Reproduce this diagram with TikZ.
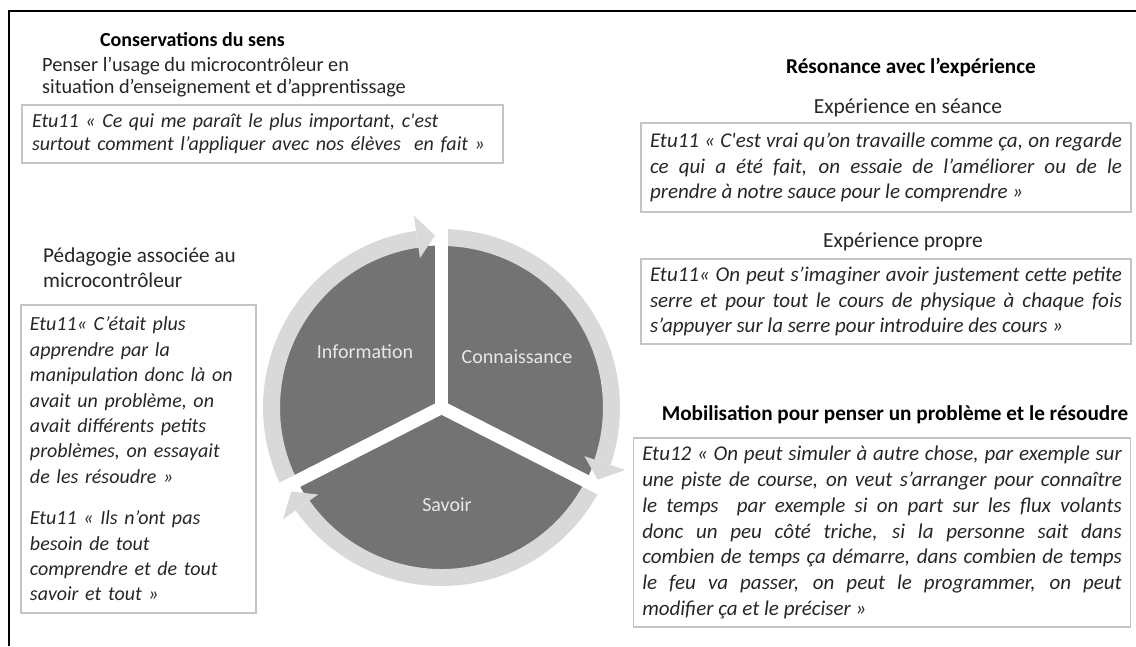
\documentclass[tikz,border=0pt]{standalone}
\usepackage{fontspec}
\setmainfont{Carlito}
\usepackage{tikz}
\usetikzlibrary{positioning}
\definecolor{ink}{HTML}{262626}
\definecolor{rulegry}{HTML}{C4C4C4}
\definecolor{slicegry}{HTML}{737373}
\definecolor{ringgry}{HTML}{D9D9D9}
\definecolor{segwht}{HTML}{E8E8E8}
\tikzset{
  quotebox/.style ={draw=rulegry, line width=1.3pt, text=ink, inner xsep=9pt, inner ysep=0pt,
                    font=\fontsize{21}{25.8}\selectfont\itshape, align=justify},
  raggedbox/.style={quotebox, align=left, font=\fontsize{20}{25.4}\selectfont\itshape},
  ttl/.style      ={font=\fontsize{21.2}{24}\selectfont\bfseries, text=black, inner sep=0pt},
  subhd/.style    ={font=\fontsize{21.5}{25}\selectfont, text=ink, inner sep=0pt, align=left},
  segl/.style     ={font=\fontsize{20}{24}\selectfont, text=segwht, inner sep=0pt},
  band/.style     ={draw=ringgry, line width=17pt},
  barb/.style     ={fill=ringgry},
  gapcut/.style   ={draw=white, line width=13pt},
  framel/.style   ={draw=black, line width=2pt},
}
\begin{document}
\begin{tikzpicture}[x=1pt, y=1pt]
  \useasboundingbox (0,0) rectangle (1136,646);
  \draw[framel] (9,0) -- (9,635) -- (1136,635);
  % left column
  \node[ttl, font=\fontsize{20}{24}\selectfont\bfseries] (sens) at (192.5,606) {Conservations du sens};
  \node[subhd, anchor=west, font=\fontsize{20.3}{22}\selectfont] (usage) at (42,569)
    {Penser l’usage du microcontrôleur en\\situation d’enseignement et d’apprentissage};
  \node[raggedbox, text width=461pt, inner xsep=10pt, minimum height=58pt, font=\fontsize{20}{23}\selectfont\itshape] (q1) at (262.5,512)
    {Etu11 « Ce qui me paraît le plus important, c\textquotesingle est\\surtout comment l’appliquer avec nos élèves \ en fait »};
  \node[subhd, anchor=west, font=\fontsize{21.2}{25}\selectfont] (peda) at (43,378.5) {Pédagogie associée au\\microcontrôleur};
  \node[raggedbox, text width=217pt, minimum height=308pt] (q2) at (138.5,187)
    {Etu11« C’était plus\\apprendre par la\\manipulation donc là on\\avait un problème, on\\avait différents petits\\problèmes, on essayait\\de les résoudre »\\[16pt]
     Etu11 « Ils n’ont pas\\besoin de tout\\comprendre et de tout\\savoir et tout »};
  % right column
  \node[ttl] (reson) at (911,579) {Résonance avec l’expérience};
  \node[quotebox, text width=472pt, minimum height=89pt] (q3) at (886,478.5)
    {Etu11 « C\textquotesingle est vrai qu’on travaille comme ça, on regarde \linebreak ce qui a été fait, on essaie de l’améliorer ou de le \linebreak prendre à notre sauce pour le comprendre »};
  \node[subhd, above=5pt of q3, xshift=22pt] (seance) {Expérience en séance};
  \node[quotebox, text width=472pt, minimum height=85pt] (q4) at (886,344.5)
    {Etu11« On peut s’imaginer avoir justement cette petite \linebreak serre et pour tout le cours de physique à chaque fois \linebreak s’appuyer sur la serre pour introduire des cours »};
  \node[subhd, above=7pt of q4, xshift=17pt] (propre) {Expérience propre};
  \node[ttl] (mobil) at (895,231) {Mobilisation pour penser un problème et le résoudre};
  \node[quotebox, text width=479.5pt, minimum height=189pt] (q5) at (882,113.5)
    {Etu12 « On peut simuler à autre chose, par exemple sur \linebreak une piste de course, on veut s’arranger pour connaître \linebreak le temps \ par exemple si on part sur les flux volants \linebreak donc un peu côté triche, si la personne sait dans \linebreak combien de temps ça démarre, dans combien de temps \linebreak le feu va passer, on peut le programmer, on peut \linebreak modifier ça et le préciser »};
  % cycle
  \coordinate (cyc) at (441.5,238.5);
  \begin{scope}[shift={(cyc)}]
    \fill[slicegry] (0,0) circle[radius=162];
    \foreach \s/\g in {207/90, 90/-27, -27/-153}{
      \draw[band] (\s:170) arc[start angle=\s, end angle=\g+8.2, radius=170];
      \fill[barb] ({\g+8.2}:151) -- ({\g+2.2}:172) -- ({\g+8.2}:194) -- cycle;
    }
    \foreach \g in {90,-27,-153}
      \draw[gapcut] (0,0) -- (\g:200);
  \end{scope}
  \node[segl] (info) at (365,294) {Information};
  \node[segl] (conn) at (517,289) {Connaissance};
  \node[segl] (sav) at (447,141) {Savoir};
\end{tikzpicture}
\end{document}
